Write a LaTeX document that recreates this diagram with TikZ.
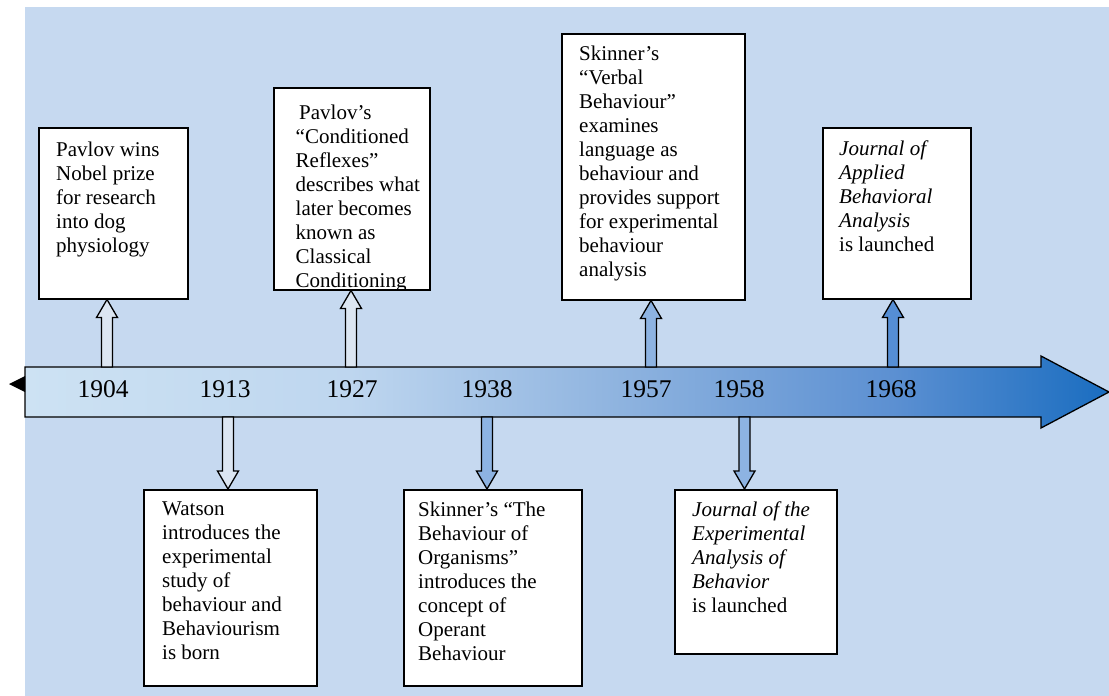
\documentclass[tikz,border=0pt]{standalone}
\usepackage{fontspec}
\setmainfont{Liberation Serif}
\usetikzlibrary{calc}

\definecolor{bgblue}{HTML}{C6D9F0}
\definecolor{lineA}{HTML}{CDE2F3}
\definecolor{lineB}{HTML}{BED6EF}
\definecolor{lineC}{HTML}{8EB3DF}
\definecolor{lineD}{HTML}{5C90D2}
\definecolor{lineE}{HTML}{1A6DC0}
\definecolor{arrpale}{HTML}{DCE6F2}
\definecolor{arrlight}{HTML}{8DB3E2}
\definecolor{arrdark}{HTML}{558ED5}

% light on the left, dark blue at the head
\pgfdeclarehorizontalshading{timeline}{100bp}{color(0bp)=(lineA); color(25bp)=(lineA);
  color(40bp)=(lineB); color(52.5bp)=(lineC); color(65bp)=(lineD);
  color(75bp)=(lineE); color(100bp)=(lineE)}

% block arrow from the time line to an event box
% #1 point on the time line, #2 box anchor, #3 fill, #4 direction (1 down, -1 up)
\newcommand{\eventarrow}[4]{%
  \draw[arrowline, fill=#3] ($(#1)+(-5.5,0)$) -- ($(#1 |- #2)+(-5.5,{-18*#4})$)
    -- ($(#1 |- #2)+(-10.5,{-18*#4})$) -- (#1 |- #2)
    -- ($(#1 |- #2)+(10.5,{-18*#4})$) -- ($(#1 |- #2)+(5.5,{-18*#4})$)
    -- ($(#1)+(5.5,0)$) -- cycle;}

\begin{document}
\begin{tikzpicture}[x=1pt,y=-1pt]
    % Styles for the boxes, their texts and the years
    \tikzstyle{event}=[draw, line width=1.5pt, fill=white, anchor=north west, inner sep=0pt]
    \tikzstyle{eventtext}=[anchor=north west, align=left, inner sep=0pt, font=\fontsize{21}{24}\selectfont]
    \tikzstyle{year}=[anchor=base, inner sep=0pt, font=\fontsize{25.5}{28}\selectfont]
    \tikzstyle{arrowline}=[draw=black, line width=1.3pt, line join=miter]

    \useasboundingbox (0,0) rectangle (1109,696);

    % Background
    \fill[bgblue] (25,7) rectangle (1109,696);

    % The time line
    \shadedraw[shading=timeline, draw=black, line width=1.3pt]
        (25,367) -- (1041,367) -- (1041,356) -- (1109,392) -- (1041,428)
        -- (1041,417) -- (25,417) -- cycle;
    \fill[black] (25,376) -- (9,384) -- (25,392) -- cycle;

    % Years on the time line
    \foreach \yr/\x in {1904/103, 1913/225, 1927/352, 1938/487, 1957/646, 1958/739, 1968/891}
        \node[year] (y\yr) at (\x,397) {\yr};

    % Where the arrows leave the time line
    \foreach \yr/\x in {1904/107, 1927/351, 1957/651, 1968/893}
        \coordinate (t\yr) at (\x,367);
    \foreach \yr/\x in {1913/228, 1938/487, 1958/744.5}
        \coordinate (t\yr) at (\x,417);

    % Boxes above the line
    \node[event, minimum width=149pt, minimum height=171pt] (nobel) at (38,127) {};
    \node[eventtext] (nobeltext) at (56,141.5)
        {Pavlov wins\\Nobel prize\\for research\\into dog\\physiology};

    \node[event, minimum width=156pt, minimum height=202pt] (reflexes) at (273,87) {};
    \begin{scope}
        \clip (reflexes.south west) rectangle (reflexes.north east);
        \node[eventtext] (reflexestext) at (295.5,104.5)
            {\hspace{3.5pt}Pavlov’s\\“Conditioned\\Reflexes”\\describes what\\later becomes\\known as\\Classical\\Conditioning};
    \end{scope}

    \node[event, minimum width=183pt, minimum height=266pt] (verbal) at (561,33) {};
    \node[eventtext] (verbaltext) at (579,45.5)
        {Skinner’s\\“Verbal\\Behaviour”\\examines\\language as\\behaviour and\\provides support\\for experimental\\behaviour\\analysis};

    \node[event, minimum width=148pt, minimum height=171pt] (jaba) at (822,127) {};
    \node[eventtext] (jabatext) at (839,140.5)
        {\textit{Journal of}\\\textit{Applied}\\\textit{Behavioral}\\\textit{Analysis}\\is launched};

    % Boxes below the line
    \node[event, minimum width=173pt, minimum height=196pt] (watson) at (143,489) {};
    \node[eventtext] (watsontext) at (162,501.5)
        {Watson\\introduces the\\experimental\\study of\\behaviour and\\Behaviourism\\is born};

    \node[event, minimum width=178pt, minimum height=196pt] (organisms) at (403,489) {};
    \node[eventtext] (organismstext) at (418,501.5)
        {Skinner’s “The\\Behaviour of\\Organisms”\\introduces the\\concept of\\Operant\\Behaviour};

    \node[event, minimum width=162pt, minimum height=164pt] (jeab) at (674,489) {};
    \node[eventtext] (jeabtext) at (692,501.5)
        {\textit{Journal of the}\\\textit{Experimental}\\\textit{Analysis of}\\\textit{Behavior}\\is launched};

    % Arrows from the line to the boxes
    \eventarrow{t1904}{nobel.south}{arrpale}{-1}
    \eventarrow{t1927}{reflexes.south}{arrpale}{-1}
    \eventarrow{t1957}{verbal.south}{arrlight}{-1}
    \eventarrow{t1968}{jaba.south}{arrdark}{-1}
    \eventarrow{t1913}{watson.north}{arrpale}{1}
    \eventarrow{t1938}{organisms.north}{arrlight}{1}
    \eventarrow{t1958}{jeab.north}{arrlight}{1}
\end{tikzpicture}
\end{document}
